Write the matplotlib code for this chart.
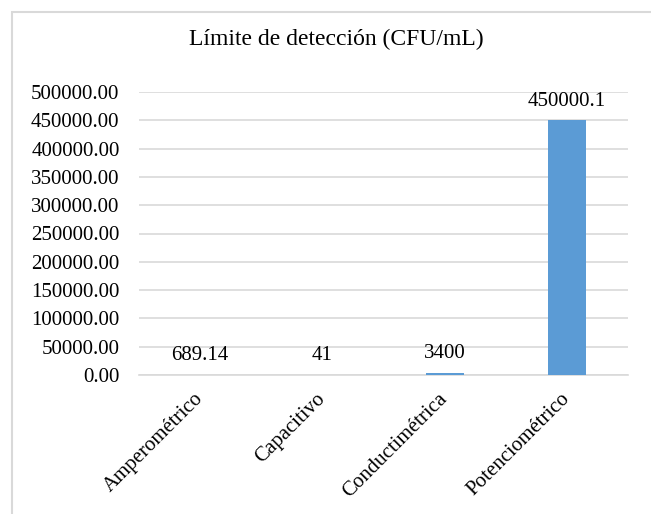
import matplotlib.pyplot as plt
from matplotlib.patches import Rectangle

categorias = ["Amperométrico", "Capacitivo", "Conductimétrica", "Potenciométrico"]
valores = [689.14, 41, 3400, 450000.1]
etiquetas = ["689.14", "41", "3400", "450000.1"]
yticks = list(range(0, 500001, 50000))

plt.rcParams['font.family'] = ['Liberation Serif', 'DejaVu Serif']

fig = plt.figure(figsize=(6.51, 5.14), dpi=100)
ax = fig.add_axes([139/651, 1 - 375/514, (628 - 139)/651, (375 - 92)/514])

# chart border (only left/top edges visible in the original)
fig.patches.append(Rectangle((12/651, -0.1), 1.2, 1 - 12/514 + 0.1, transform=fig.transFigure,
                             fill=False, edgecolor='#d9d9d9', linewidth=1.5))

x = range(len(categorias))
ax.bar(x, valores, width=0.31, color='#5B9BD5', zorder=3)
for xi, v, t in zip(x, valores, etiquetas):
    ax.annotate(t, (xi, v), xytext=(0, 7), textcoords='offset points',
                ha='center', va='bottom', fontsize=15)

ax.set_xlim(-0.5, len(categorias) - 0.5)
ax.set_ylim(0, 500000)
ax.set_yticks(yticks)
ax.set_yticklabels([f"{v:.2f}" for v in yticks], fontsize=15)
ax.set_xticks(list(x))
ax.set_xticklabels(categorias, rotation=45, ha='right', va='center',
                   rotation_mode='anchor', fontsize=15)
ax.tick_params(length=0)
ax.tick_params(axis='y', pad=14)
ax.tick_params(axis='x', pad=15)
ax.grid(axis='y', color='#d9d9d9', linewidth=1.2, zorder=0)
for s in ['top', 'right', 'left']:
    ax.spines[s].set_visible(False)
ax.spines['bottom'].set_color('#d9d9d9')
ax.spines['bottom'].set_linewidth(1.2)

fig.text(336/651, 1 - 39/514, "Límite de detección (CFU/mL)", ha='center', va='center', fontsize=17)

fig.savefig("out.png", dpi=100)
